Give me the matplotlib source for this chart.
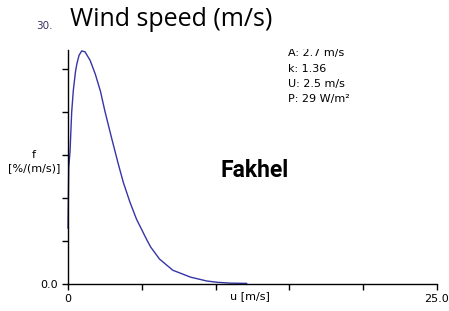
import matplotlib
matplotlib.use('Agg')
import matplotlib.pyplot as plt
from matplotlib.patches import Rectangle

# wind speed (m/s) and frequency (%/(m/s))
speed = [0, 0.05, 0.14, 0.25, 0.36, 0.5, 0.6, 0.75, 0.93, 1.15, 1.5, 1.85,
         2.2, 2.5, 2.95, 3.4, 3.75, 4.2, 4.65, 5.0, 5.35, 5.6, 6.2, 7.1,
         8.3, 9.4, 10.1, 11.0, 12.1]
freq = [6.5, 13.5, 15.5, 20.0, 22.5, 24.6, 25.6, 26.6, 27.1, 27.0, 26.0, 24.4,
        22.4, 20.1, 17.0, 14.0, 11.8, 9.5, 7.5, 6.3, 5.1, 4.3, 2.9, 1.6,
        0.8, 0.35, 0.2, 0.1, 0.07]

stats = ['A: 2.7 m/s', 'k: 1.36', 'U: 2.5 m/s', 'P: 29 W/m²']
site = 'Fakhel'
title = 'Wind speed (m/s)'

W, H = 449, 311
fig = plt.figure(figsize=(W / 100, H / 100), dpi=100)
ax = fig.add_axes([68 / W, (H - 284) / H, 369 / W, 258 / H])

ax.plot(speed, freq, color='#3535a5', lw=1.0, clip_on=False)

ax.set_xlim(0, 25)
ax.set_ylim(0, 30)
for s in ['top', 'right']:
    ax.spines[s].set_visible(False)
ax.spines['left'].set_bounds(0, 27.2)
ax.spines['left'].set_linewidth(1.0)
ax.spines['bottom'].set_linewidth(1.0)

ax.set_xticks([0, 5, 10, 15, 20, 25])
ax.set_xticklabels(['0', '', '', '', '', '25.0'])
ax.set_yticks([0, 5, 10, 15, 20, 25])
ax.set_yticklabels(['0.0', '', '', '', '', ''])
ax.tick_params(length=4, width=1, labelsize=8, colors='black', pad=3)

ax.annotate('u [m/s]', xy=(12.3, 0), xycoords='data', xytext=(0, -7),
            textcoords='offset pixels', ha='center', va='top', fontsize=8)
ax.annotate('30.', xy=(0, 30), xycoords='data', xytext=(-15, 0),
            textcoords='offset pixels', ha='right', va='center', fontsize=7.5,
            color='#3d3060')

fig.text(34 / W, 1 - 158 / H, 'f', ha='center', va='baseline', fontsize=8)
fig.text(34 / W, 1 - 171 / H, '[%/(m/s)]', ha='center', va='baseline', fontsize=8)

fig.text(70 / W, 1 - 26 / H, title, family='Open Sans', fontsize=18,
         ha='left', va='baseline')
fig.text(255 / W, 1 - 177 / H, site, family='Roboto', weight='bold',
         fontsize=16.5, ha='center', va='baseline')

for i, line in enumerate(stats):
    fig.text(288 / W, 1 - (56 + 15.5 * i) / H, line, fontsize=8,
             ha='left', va='baseline')
# top of the first stats line is cut off in the original
fig.patches.append(Rectangle((280 / W, 1 - 49 / H), 90 / W, 15 / H,
                             transform=fig.transFigure, facecolor='white',
                             edgecolor='none', zorder=10))

fig.savefig('out.png', dpi=100)
